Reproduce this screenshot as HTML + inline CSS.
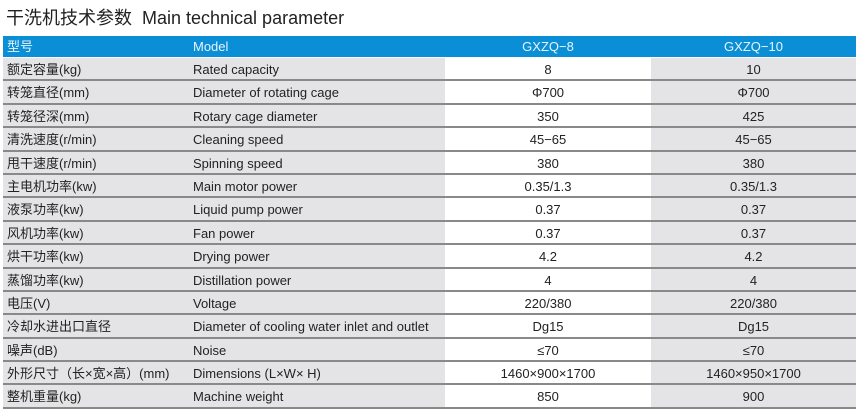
<!DOCTYPE html>
<html><head><meta charset="utf-8"><style>
body{margin:0;width:859px;height:411px;background:#fff;font-family:"Liberation Sans","Noto Sans CJK SC",sans-serif;color:#222;overflow:hidden;position:relative}
.t{position:absolute;left:6px;top:4px;font-size:18px;color:#222;white-space:nowrap}
.hd{position:absolute;left:3px;top:36px;width:853px;height:21px;background:#0a8fd6;color:#e8f4fc;font-size:13px}
.tb{position:absolute;left:3px;top:58px;width:853px}
.r{position:relative;width:853px;height:21.4px;background:#e4e4e6;border-bottom:2px solid #8a8888;font-size:13px}
.r .w{position:absolute;left:442px;width:206px;top:0;bottom:0;background:#fff}
.c{position:absolute;top:0;line-height:23px;white-space:nowrap}
.hd .c{line-height:21px}
.a{left:4px}.b{left:190px}.x{left:442px;width:206px;text-align:center}.y{left:648px;width:205px;text-align:center}
</style></head><body>
<div class="t">干洗机技术参数 &nbsp;Main technical parameter</div>
<div class="hd"><span class="c a">型号</span><span class="c b">Model</span><span class="c x">GXZQ−8</span><span class="c y">GXZQ−10</span></div>
<div class="tb">
<div class="r"><div class="w"></div><span class="c a">额定容量(kg)</span><span class="c b">Rated capacity</span><span class="c x">8</span><span class="c y">10</span></div>
<div class="r"><div class="w"></div><span class="c a">转笼直径(mm)</span><span class="c b">Diameter of rotating cage</span><span class="c x">Φ700</span><span class="c y">Φ700</span></div>
<div class="r"><div class="w"></div><span class="c a">转笼径深(mm)</span><span class="c b">Rotary cage diameter</span><span class="c x">350</span><span class="c y">425</span></div>
<div class="r"><div class="w"></div><span class="c a">清洗速度(r/min)</span><span class="c b">Cleaning speed</span><span class="c x">45−65</span><span class="c y">45−65</span></div>
<div class="r"><div class="w"></div><span class="c a">甩干速度(r/min)</span><span class="c b">Spinning speed</span><span class="c x">380</span><span class="c y">380</span></div>
<div class="r"><div class="w"></div><span class="c a">主电机功率(kw)</span><span class="c b">Main motor power</span><span class="c x">0.35/1.3</span><span class="c y">0.35/1.3</span></div>
<div class="r"><div class="w"></div><span class="c a">液泵功率(kw)</span><span class="c b">Liquid pump power</span><span class="c x">0.37</span><span class="c y">0.37</span></div>
<div class="r"><div class="w"></div><span class="c a">风机功率(kw)</span><span class="c b">Fan power</span><span class="c x">0.37</span><span class="c y">0.37</span></div>
<div class="r"><div class="w"></div><span class="c a">烘干功率(kw)</span><span class="c b">Drying power</span><span class="c x">4.2</span><span class="c y">4.2</span></div>
<div class="r"><div class="w"></div><span class="c a">蒸馏功率(kw)</span><span class="c b">Distillation power</span><span class="c x">4</span><span class="c y">4</span></div>
<div class="r"><div class="w"></div><span class="c a">电压(V)</span><span class="c b">Voltage</span><span class="c x">220/380</span><span class="c y">220/380</span></div>
<div class="r"><div class="w"></div><span class="c a">冷却水进出口直径</span><span class="c b">Diameter of cooling water inlet and outlet</span><span class="c x">Dg15</span><span class="c y">Dg15</span></div>
<div class="r"><div class="w"></div><span class="c a">噪声(dB)</span><span class="c b">Noise</span><span class="c x">≤70</span><span class="c y">≤70</span></div>
<div class="r"><div class="w"></div><span class="c a">外形尺寸（长×宽×高）(mm)</span><span class="c b">Dimensions (L×W× H)</span><span class="c x">1460×900×1700</span><span class="c y">1460×950×1700</span></div>
<div class="r"><div class="w"></div><span class="c a">整机重量(kg)</span><span class="c b">Machine weight</span><span class="c x">850</span><span class="c y">900</span></div>
</div>
</body></html>
